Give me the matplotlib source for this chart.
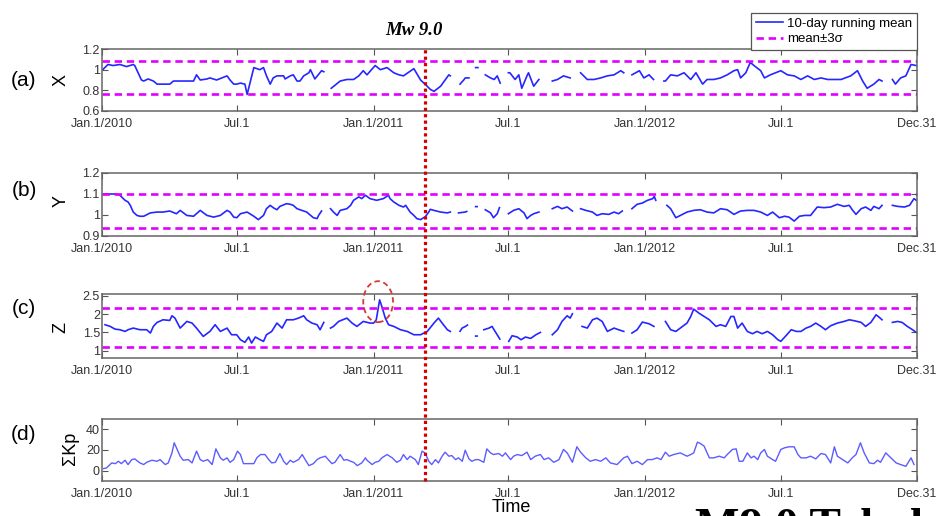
import matplotlib
matplotlib.use("Agg")
import matplotlib.pyplot as plt
import matplotlib.transforms as mtransforms
from matplotlib.patches import Ellipse
from matplotlib.lines import Line2D
import numpy as np

nan = np.nan

# days counted from Jan 1 2010; NaN marks gaps in the record
x_days = [1, 8, 15, 24, 33, 42, 44, 53, 56, 62, 69, 74, 82, 91, 96, 109, 123, 127, 132, 141,
          145, 154, 168, 172, 177, 181, 186, 192, 195, 204, 212, 217, 221, 226, 230, 235, 244, 246, 253, 257,
          262, 266, 271, 278, 280, 286, 295, 298, nan,
          308, 320, 329, 338, 345, 351, 356, 367, 374, 383, 392, 399, 405, 419, 428, 434, 441, 446, 455, 461,
          466, 468, nan,
          481, 486, 488, 493, nan, 502, 505, nan, 515, 522, 527, 531, 535, nan,
          546, 548, 555, 560, 564, 571, 573, 580, 587, nan, 605, 612, 620, 629, nan,
          643, 652, 661, 670, 679, 688, 697, 701, nan, 712, 722, 728, 735, 741, nan,
          755, 757, 764, 773, 782, 791, 798, 807, 813, 822, 831, 840, 849, 854, 858, 865, 871, 876, 885, 890,
          898, 912, 921, 930, 939, 948, 957, 966, 975, 993, 1006, 1015, 1022, 1028, 1037, 1044, 1048, nan,
          1062, 1066, 1073, 1080, 1087, 1094]
x_vals = [1.00, 1.05, 1.04, 1.05, 1.03, 1.05, 1.04, 0.90, 0.89, 0.91, 0.89, 0.86, 0.86, 0.86, 0.89, 0.89, 0.89, 0.95, 0.90, 0.91,
          0.92, 0.90, 0.94, 0.90, 0.86, 0.86, 0.87, 0.86, 0.76, 1.02, 1.00, 1.02, 0.94, 0.86, 0.92, 0.94, 0.94, 0.91, 0.94, 0.95,
          0.89, 0.89, 0.94, 0.97, 1.00, 0.91, 0.99, 0.98, nan,
          0.82, 0.89, 0.905, 0.905, 0.94, 0.99, 0.95, 1.04, 1.00, 1.02, 0.97, 0.95, 0.94, 1.01, 0.90, 0.86, 0.81, 0.79, 0.84, 0.90,
          0.95, 0.94, nan,
          0.86, 0.90, 0.92, 0.92, nan, 1.02, 1.02, nan, 0.95, 0.92, 0.905, 0.94, 0.87, nan,
          0.97, 0.97, 0.905, 0.95, 0.82, 0.94, 0.97, 0.84, 0.905, nan, 0.89, 0.905, 0.94, 0.92, nan,
          0.97, 0.905, 0.905, 0.92, 0.94, 0.95, 0.99, 0.97, nan, 0.95, 0.99, 0.92, 0.95, 0.905, nan,
          0.89, 0.89, 0.95, 0.94, 0.97, 0.905, 0.97, 0.86, 0.905, 0.905, 0.92, 0.95, 0.99, 1.00, 0.92, 0.97, 1.07, 1.04, 0.99, 0.92,
          0.95, 0.99, 0.95, 0.94, 0.905, 0.94, 0.905, 0.92, 0.905, 0.905, 0.94, 0.99, 0.89, 0.82, 0.86, 0.905, 0.89, nan,
          0.905, 0.86, 0.92, 0.94, 1.05, 1.04]

y_days = [2, 11, 20, 24, 31, 35, 38, 42, 47, 51, 56, 65, 74, 82, 91, 100, 105, 114, 123, 132,
          141, 150, 159, 168, 172, 177, 181, 186, 195, 204, 210, 217, 221, 226, 230, 235, 239, 248, 253, 257,
          262, 266, 275, 284, 289, 291, 295, nan,
          307, 311, 316, 320, 329, 334, 338, 345, 349, 354, 360, 369, 378, 385, 387, 392, 399, 405, 408, 414,
          419, 423, 428, 432, 434, 439, 441, 446, 455, 464, 468, nan,
          479, 488, 490, nan, 502, 504, nan, 515, 522, 526, 531, 534, nan,
          546, 553, 560, 567, 571, 576, 580, 587, nan, 605, 612, 618, 625, 632, nan,
          643, 650, 659, 665, 672, 681, 688, 694, 699, nan, 712, 719, 726, 733, 740, 742, 744, nan,
          759, 764, 771, 777, 786, 795, 804, 813, 822, 831, 840, 849, 858, 867, 876, 885, 894, 901, 910, 917,
          923, 930, 937, 944, 952, 961, 970, 979, 988, 997, 1004, 1008, 1013, 1020, 1026, 1033, 1037, 1044, 1048, nan,
          1062, 1069, 1078, 1085, 1091, 1094]
y_vals = [1.10, 1.10, 1.10, 1.094, 1.07, 1.062, 1.046, 1.014, 0.998, 0.994, 0.994, 1.01, 1.014, 1.014, 1.019, 1.006, 1.022, 0.998, 0.994, 1.022,
          0.998, 0.99, 0.998, 1.022, 1.014, 0.99, 0.987, 1.006, 1.014, 0.994, 0.978, 0.998, 1.03, 1.046, 1.035, 1.025, 1.041, 1.054, 1.051, 1.046,
          1.03, 1.025, 1.014, 0.987, 0.983, 0.998, 1.019, nan,
          1.03, 1.014, 0.998, 1.022, 1.03, 1.046, 1.07, 1.086, 1.078, 1.094, 1.078, 1.07, 1.078, 1.094, 1.078, 1.062, 1.046, 1.038, 1.046, 1.014,
          0.998, 0.983, 0.978, 0.987, 0.99, 1.014, 1.027, 1.022, 1.014, 1.01, 1.014, nan,
          1.01, 1.014, 1.017, nan, 1.04, 1.04, nan, 1.025, 1.01, 0.987, 1.006, 1.035, nan,
          1.006, 1.022, 1.03, 1.01, 0.983, 0.998, 1.006, 1.014, nan, 1.03, 1.041, 1.03, 1.038, 1.019, nan,
          1.03, 1.022, 1.014, 0.998, 1.006, 1.003, 1.014, 1.006, 1.019, nan, 1.03, 1.051, 1.057, 1.07, 1.078, 1.089, 1.07, nan,
          1.046, 1.03, 0.987, 0.998, 1.014, 1.022, 1.025, 1.014, 1.01, 1.03, 1.025, 1.003, 1.019, 1.022, 1.022, 1.014, 0.998, 1.014, 0.987, 0.994,
          0.99, 0.971, 0.994, 0.998, 0.998, 1.038, 1.035, 1.038, 1.051, 1.041, 1.046, 1.025, 1.003, 1.03, 1.038, 1.022, 1.041, 1.03, 1.046, nan,
          1.046, 1.041, 1.038, 1.046, 1.078, 1.07]

z_days = [4, 11, 17.5, 24, 31, 35, 42, 51, 60, 65, 69, 74, 82, 91, 94, 98, 105, 114, 121, 127,
          136, 145, 152, 159, 168, 174, 181, 186, 192, 197, 201, 206, 212.5, 217, 221, 228, 235, 242, 248, 257,
          264, 271, 275, 282, 289, 293, 298, nan,
          307, 311, 318, 329, 336, 342.5, 351, 360, 365, 368.5, 373, 376, 380.6, 385, 392, 401, 410, 419, 428, 437,
          446, 452, 457, 464, 468, nan,
          481, 484, 488, 491, nan, 502, 504, nan, 513, 520, 524, 531, 534.5, nan,
          546.5, 551, 558, 563, 569, 576, 583, 589, nan, 605, 612, 618, 625, 629, 632, nan,
          645, 652, 659, 665, 672, 679, 688, 694, 701, nan, 712, 719, 726, 735, 741.5, nan,
          757, 764, 771, 777, 786, 791, 795, 802, 809, 816, 825, 831, 838, 845, 849, 854, 860, 867, 874, 880,
          887, 894, 901, 908, 912, 919, 926, 933, 939, 946, 952, 959, 966, 972, 979, 988, 997, 1004, 1011, 1020,
          1026, 1033, 1040, 1044, 1048, nan,
          1062, 1069, 1075, 1082, 1089, 1094]
z_vals = [1.71, 1.664, 1.59, 1.573, 1.527, 1.573, 1.618, 1.573, 1.573, 1.482, 1.664, 1.773, 1.845, 1.827, 1.955, 1.891, 1.618, 1.80, 1.755, 1.618,
          1.39, 1.527, 1.71, 1.527, 1.618, 1.436, 1.436, 1.30, 1.227, 1.373, 1.209, 1.373, 1.30, 1.255, 1.436, 1.527, 1.755, 1.618, 1.845, 1.845,
          1.891, 1.955, 1.845, 1.755, 1.71, 1.573, 1.773, nan,
          1.618, 1.664, 1.80, 1.891, 1.755, 1.664, 1.80, 1.755, 1.755, 1.845, 2.39, 2.209, 1.891, 1.71, 1.664, 1.573, 1.527, 1.436, 1.436, 1.527,
          1.755, 1.891, 1.755, 1.573, 1.527, nan,
          1.53, 1.62, 1.66, 1.70, nan, 1.40, 1.40, nan, 1.573, 1.618, 1.664, 1.436, 1.318, nan,
          1.255, 1.41, 1.373, 1.30, 1.373, 1.336, 1.436, 1.50, nan, 1.436, 1.573, 1.80, 1.955, 1.891, 2.009, nan,
          1.664, 1.618, 1.845, 1.891, 1.80, 1.527, 1.618, 1.573, 1.527, nan, 1.482, 1.573, 1.782, 1.736, 1.664, nan,
          1.80, 1.573, 1.527, 1.618, 1.755, 1.936, 2.136, 2.027, 1.936, 1.845, 1.664, 1.71, 1.664, 1.936, 1.936, 1.618, 1.755, 1.527, 1.464, 1.527,
          1.464, 1.527, 1.436, 1.30, 1.255, 1.41, 1.573, 1.527, 1.527, 1.618, 1.664, 1.755, 1.664, 1.573, 1.682, 1.755, 1.80, 1.845, 1.818, 1.773,
          1.664, 1.773, 1.982, 1.918, 1.845, nan,
          1.773, 1.80, 1.773, 1.664, 1.573, 1.50]

kp_days = [2, 6, 13, 18, 22, 26, 31, 35, 40, 44, 51, 56, 60, 67, 74, 78, 85, 89, 94, 97,
           100, 105, 109, 116, 121, 127, 132, 136, 142, 148, 153, 159, 163, 168, 172, 177, 182, 186, 190, 197,
           204, 208, 213, 219, 224, 228, 233, 239, 244, 248, 253, 257, 264, 269, 273, 278, 284, 289, 293, 300,
           304, 309, 313, 320, 325, 329, 334, 338, 343, 349, 354, 356, 363, 367, 372, 376, 383, 390, 396, 401,
           405, 410, 414, 421, 425, 430, 434, 439, 443, 448, 452, 457, 461, 466, 470, 475, 479, 484, 488, 493,
           497, 502, 506, 513, 517, 522, 526, 533, 538, 542, 549, 553, 558, 564, 571, 576, 582, 589, 594, 600,
           607, 614, 620, 625, 632, 638, 643, 650, 656, 663, 670, 677, 683, 692, 701, 706, 712, 719, 726, 733,
           739, 746, 751, 757, 762, 768, 777, 786, 791, 795, 800, 804, 809, 816, 822, 829, 836, 840, 847, 852,
           856, 861, 867, 872, 876, 881, 885, 890, 894, 901, 905, 912, 917, 923, 930, 935, 939, 946, 952, 959,
           966, 972, 979, 984, 988, 995, 1002, 1008, 1013, 1019, 1024, 1031, 1037, 1042, 1046, 1053, 1060, 1067, 1073, 1080,
           1087, 1091]
kp_vals = [2.0, 2.6, 7.5, 6.8, 9.1, 6.8, 10.1, 5.9, 10.7, 11.4, 7.5, 5.9, 8.1, 10.1, 9.1, 10.7, 5.9, 7.5, 17.2, 27.0,
           22.1, 14.0, 10.1, 10.7, 7.5, 18.9, 10.7, 9.1, 10.7, 5.9, 21.1, 12.4, 10.1, 12.4, 8.1, 10.7, 18.9, 15.6, 6.8, 6.8,
           6.8, 12.4, 15.6, 15.6, 10.7, 7.5, 8.1, 16.6, 9.1, 5.9, 10.1, 8.1, 10.7, 15.6, 10.7, 4.9, 6.8, 10.7, 12.4, 14.0,
           10.7, 6.8, 8.1, 15.6, 10.1, 10.7, 9.1, 8.1, 4.9, 7.5, 12.4, 10.1, 5.9, 8.1, 9.1, 12.4, 15.6, 12.4, 8.1, 10.1,
           15.6, 10.7, 14.0, 10.7, 5.9, 18.9, 17.2, 9.1, 5.9, 10.7, 7.5, 14.0, 17.9, 14.0, 14.6, 10.7, 12.4, 9.1, 19.8, 11.4,
           9.1, 10.7, 10.7, 8.1, 21.1, 17.2, 15.6, 16.6, 14.0, 17.2, 10.7, 14.0, 15.6, 14.6, 17.9, 10.7, 14.0, 15.6, 10.7, 12.4,
           8.1, 10.7, 20.5, 17.2, 8.1, 23.1, 17.9, 12.4, 9.1, 10.7, 9.1, 12.4, 7.5, 5.9, 12.4, 14.0, 6.8, 9.1, 5.9, 10.7,
           10.7, 12.4, 10.7, 17.9, 14.0, 15.6, 17.2, 14.0, 15.6, 17.2, 27.6, 26.3, 23.7, 12.4, 12.4, 14.0, 12.4, 15.6, 20.5, 21.1,
           9.1, 9.1, 17.2, 12.4, 14.0, 10.7, 17.2, 20.5, 14.0, 10.7, 9.1, 20.5, 22.1, 23.1, 23.1, 15.6, 12.4, 12.4, 14.0, 11.4,
           16.6, 15.6, 7.5, 23.1, 14.0, 10.7, 7.5, 12.4, 15.6, 27.0, 17.2, 7.5, 6.8, 10.1, 8.1, 17.2, 12.4, 7.5, 5.9, 4.2,
           12.4, 5.9]

# mean +/- 3 sigma levels
x_band = [0.76, 1.08]
y_band = [0.94, 1.10]
z_band = [1.10, 2.18]

quake_day = 434  # 11 Mar 2011
tick_days = [0, 181, 365, 546, 730, 912, 1095]
tick_labels = ['Jan.1/2010', 'Jul.1', 'Jan.1/2011', 'Jul.1', 'Jan.1/2012', 'Jul.1', 'Dec.31']

plt.rcParams['font.family'] = ['Liberation Sans', 'DejaVu Sans']

W, H = 940, 516
fig = plt.figure(figsize=(W / 100, H / 100), dpi=100)

def px_axes(top, bottom, left=102, right=917):
    return fig.add_axes([left / W, 1 - bottom / H, (right - left) / W, (bottom - top) / H])

ax_a = px_axes(49, 111)
ax_b = px_axes(173, 236)
ax_c = px_axes(294, 358)
ax_d = px_axes(419, 481)

blue = '#2626ff'
magenta = '#e000ff'
dash = (0, (2.8, 1.8))

panels = [
    (ax_a, x_days, x_vals, x_band, (0.6, 1.2), [0.6, 0.8, 1, 1.2], ['0.6', '0.8', '1', '1.2'], 'X', '(a)', 80),
    (ax_b, y_days, y_vals, y_band, (0.9, 1.2), [0.9, 1.0, 1.1, 1.2], ['0.9', '1', '1.1', '1.2'], 'Y', '(b)', 190),
    (ax_c, z_days, z_vals, z_band, (0.8, 2.55), [1, 1.5, 2, 2.5], ['1', '1.5', '2', '2.5'], 'Z', '(c)', 309),
    (ax_d, kp_days, kp_vals, None, (-10, 50), [0, 20, 40], ['0', '20', '40'], '\u03a3Kp', '(d)', 435),
]

for ax, days, vals, band, ylim, yt, ytl, ylab, tag, tag_y in panels:
    if band is None:
        ax.plot(days, vals, color='#5c5cff', lw=1.0)
    else:
        ax.plot(days, vals, color=blue, lw=1.2)
        for lvl in band:
            ax.axhline(lvl, color=magenta, lw=1.9, linestyle=dash)
    ax.set_xlim(0, 1095)
    ax.set_ylim(*ylim)
    ax.set_xticks(tick_days)
    ax.set_xticklabels(tick_labels)
    ax.set_yticks(yt)
    ax.set_yticklabels(ytl)
    ax.tick_params(direction='in', length=4, width=0.8, color='#555555',
                   labelsize=9, labelcolor='#333333', top=True, right=True)
    ax.tick_params(axis='y', pad=1.5)
    ax.tick_params(axis='x', pad=5)
    for sp in ax.spines.values():
        sp.set_color('#666666')
        sp.set_linewidth(1.1)
    ax.set_ylabel(ylab, fontsize=13, va='center')
    fig.text(24 / W, 1 - tag_y / H, tag, fontsize=15, ha='center', va='center')

ax_a.yaxis.set_label_coords(-0.05, 0.5)
ax_b.yaxis.set_label_coords(-0.05, 0.55)
ax_c.yaxis.set_label_coords(-0.05, 0.47)
ax_d.yaxis.set_label_coords(-0.039, 0.53)

ax_d.set_xlabel('Time', fontsize=13, va='center')
ax_d.xaxis.set_label_coords(0.502, -0.42)

# earthquake marker: one dotted line from the top of (a) to the bottom of (d),
# drawn at figure level so it stays on top of every panel
pa, pd = ax_a.get_position(), ax_d.get_position()
quake_tr = mtransforms.blended_transform_factory(ax_a.transData, fig.transFigure)
fig.add_artist(Line2D([quake_day, quake_day], [pd.y0, pa.y1], transform=quake_tr,
                      color='#d40000', lw=2.3, linestyle=(0, (1, 1)), zorder=6))
ax_a.annotate('Mw 9.0', xy=(quake_day, 1), xycoords=ax_a.get_xaxis_transform(),
              xytext=(-8, 13.5), textcoords='offset points', ha='center', va='center',
              fontsize=13.5, fontweight='bold', fontstyle='italic', family='Liberation Serif')

# circle the January 2011 Z spike
ax_c.add_patch(Ellipse((371, 2.34), width=40, height=1.12, fill=False, edgecolor='#d43a3a',
                       lw=1.3, linestyle=(0, (3, 2)), clip_on=False, zorder=4))

handles = [Line2D([], [], color=blue, lw=1.2),
           Line2D([], [], color=magenta, lw=1.9, linestyle=dash)]
leg = fig.legend(handles, ['10-day running mean', 'mean\u00b13\u03c3'],
                 loc='upper right', bbox_to_anchor=(917 / W, 1 - 13 / H),
                 bbox_transform=fig.transFigure, fontsize=9.5, frameon=True, fancybox=False,
                 edgecolor='#555555', framealpha=1, borderpad=0.35, labelspacing=0.25,
                 handlelength=2.1, handletextpad=0.3, borderaxespad=0)
leg.get_frame().set_linewidth(0.9)
leg.set_zorder(10)

fig.text(695 / W, -24 / H, 'M9.0 Tohoku', fontsize=34, fontweight='bold',
         family='Liberation Serif', ha='left', va='baseline')

fig.savefig('out.png', dpi=100)
